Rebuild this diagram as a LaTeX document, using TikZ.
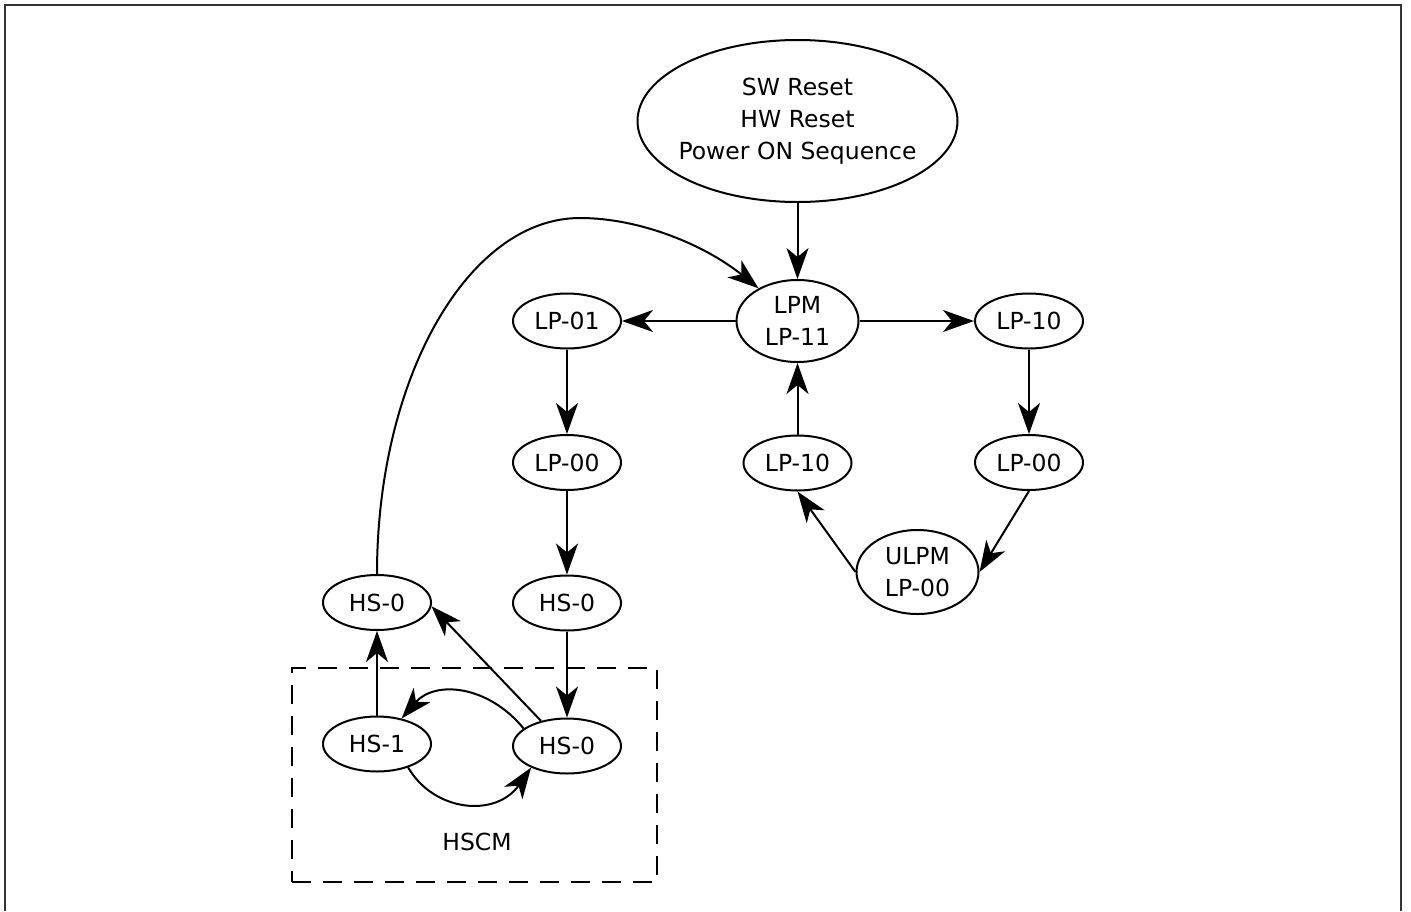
\documentclass[tikz,border=0pt]{standalone}
\usepackage{fontspec}
\setmainfont{DejaVu Sans}
\usetikzlibrary{shapes.geometric,arrows.meta}
\begin{document}
\tikzset{
  st/.style={ellipse, draw, line width=2pt, inner sep=0pt,
    minimum width=108pt, minimum height=55pt,
    font=\fontsize{23.5}{32}\selectfont, align=center},
  big/.style={st, minimum width=122pt, minimum height=82pt},
  arr/.style={line width=2pt, -{Stealth[length=31pt,width=22pt,inset=9pt]}},
  frame/.style={line width=2pt, black!80},
  groupbox/.style={draw, line width=2pt, dash pattern=on 19pt off 12pt,
    inner sep=0pt, outer sep=0pt, minimum width=365pt, minimum height=214pt},
  lbl/.style={font=\fontsize{23.5}{32}\selectfont}
}
\begin{tikzpicture}[x=1pt,y=-1pt]
\useasboundingbox (0,0) rectangle (1411,911);
\draw[frame] (5,911) -- (5,5) -- (1401,5) -- (1401,911);

\node[st, minimum width=320pt, minimum height=162pt, inner xsep=-15pt] (reset) at (797.5,121) {SW Reset\\HW Reset\\Power ON Sequence};
\node[big] (lpm) at (797.5,321) {LPM\\LP-11};
\node[st] (lp01) at (567,321) {LP-01};
\node[st] (lp10r) at (1029,321) {LP-10};
\node[st] (lp00l) at (567,462.5) {LP-00};
\node[st] (lp10m) at (797.5,463) {LP-10};
\node[st] (lp00r) at (1029,462.5) {LP-00};
\node[big, minimum height=84pt] (ulpm) at (917.5,572) {ULPM\\LP-00};
\node[st] (hs0a) at (377,602.5) {HS-0};
\node[st] (hs0m) at (567,603) {HS-0};
\node[st] (hs1) at (377,744) {HS-1};
\node[st] (hs0b) at (567,746) {HS-0};

\node[groupbox] (hscmbox) at (474.5,775) {};
\node[lbl] (hscm) at (477,842) {HSCM};

\draw[arr] (reset) -- (lpm);
\draw[arr] (lpm) -- (lp01);
\draw[arr] (lpm) -- (lp10r);
\draw[arr] (lp01) -- (lp00l);
\draw[arr] (lp00l) -- (hs0m);
\draw[arr] (hs0m) -- (hs0b);
\draw[arr] (lp10r) -- (lp00r);
\draw[arr] (lp00r.south) -- (ulpm.east);
\draw[arr] (ulpm.west) -- (lp10m.south);
\draw[arr] (lp10m) -- (lpm);
\draw[arr] (hs1) -- (hs0a);
\draw[arr] (hs0b.136) -- (hs0a.-4);
\draw[arr] (hs0a.north) .. controls (377,378) and (468,218) .. (580,218)
  .. controls (640,218) and (705,245) .. (lpm.140);
\draw[arr] (hs0b.158) .. controls (488,685) and (435,680) .. (hs1.46);
\draw[arr] (hs1.-37.5) .. controls (434,812) and (496,818) .. (hs0b.211);
\end{tikzpicture}
\end{document}
